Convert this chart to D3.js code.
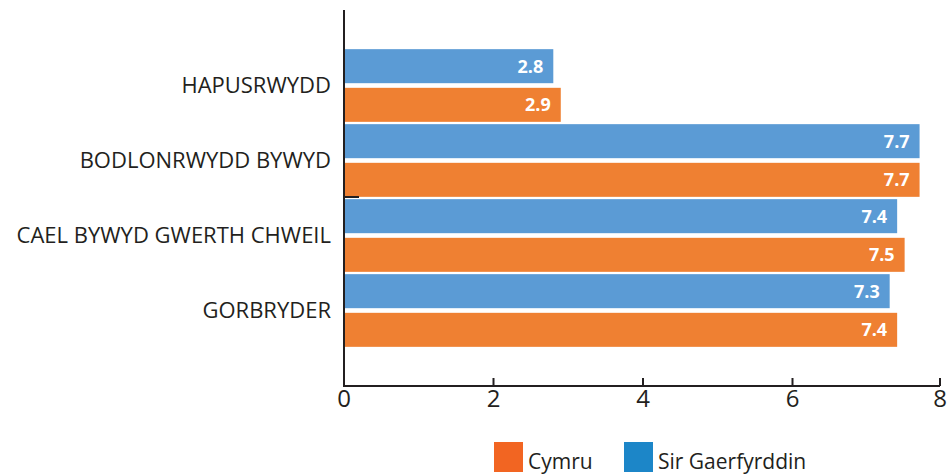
<!DOCTYPE html>
<html><head><meta charset="utf-8">
<script src="https://cdn.jsdelivr.net/npm/d3@7"></script>
<style>body{margin:0;background:#fff;} svg{display:block;font-family:"Open Sans","Noto Sans",sans-serif;}</style>
</head><body>
<svg id="c" width="949" height="474"></svg>
<script>
const categories = ["HAPUSRWYDD","BODLONRWYDD BYWYD","CAEL BYWYD GWERTH CHWEIL","GORBRYDER"];
const sirGaerfyrddin = [2.8, 7.7, 7.4, 7.3];
const cymru = [2.9, 7.7, 7.5, 7.4];
const seriesNames = ["Sir Gaerfyrddin","Cymru"];
const legendNames = ["Cymru","Sir Gaerfyrddin"];
const xTicks = [0,2,4,6,8];

const svg = d3.select("#c");
const x = d3.scaleLinear().domain([0,8]).range([344,942]);
const y = d3.scaleBand().domain(categories).range([48,348]).paddingInner(0.0).paddingOuter(0);
const sub = d3.scaleBand().domain(seriesNames).range([0,y.bandwidth()]).paddingInner(0.12).paddingOuter(0.03);
const barCol = {"Sir Gaerfyrddin":"#5b9bd5","Cymru":"#ef8032"};
const legCol = {"Cymru":"#f26522","Sir Gaerfyrddin":"#1c86c8"};

const data = [];
categories.forEach((c,i)=>{
  data.push({cat:c, s:"Sir Gaerfyrddin", v:sirGaerfyrddin[i]});
  data.push({cat:c, s:"Cymru", v:cymru[i]});
});

svg.selectAll("rect.bar").data(data).enter().append("rect")
  .attr("x", x(0)).attr("y", d=>y(d.cat)+sub(d.s))
  .attr("width", d=>x(d.v)-x(0)).attr("height", sub.bandwidth())
  .attr("fill", d=>barCol[d.s]);

svg.selectAll("text.val").data(data).enter().append("text")
  .attr("x", d=>x(d.v)-10).attr("y", d=>y(d.cat)+sub(d.s)+sub.bandwidth()/2)
  .attr("dy","0.36em").attr("text-anchor","end")
  .attr("fill","#fff").attr("font-weight","bold").attr("font-size","18px")
  .text(d=>d.v.toFixed(1));

// category labels
svg.selectAll("text.cat").data(categories).enter().append("text")
  .attr("x", 331).attr("y", d=>y(d)+y.bandwidth()/2)
  .attr("dy","0.36em").attr("text-anchor","end")
  .attr("fill","#231f20").attr("font-size","22px")
  .text(d=>d);

// y axis line
svg.append("line").attr("x1",344).attr("x2",344).attr("y1",10).attr("y2",387)
  .attr("stroke","#231f20").attr("stroke-width",2);
// stray tick
svg.append("line").attr("x1",344).attr("x2",359).attr("y1",y(categories[2])-1).attr("y2",y(categories[2])-1)
  .attr("stroke","#231f20").attr("stroke-width",2);

// x axis
const xa = svg.append("g").attr("transform","translate(0,386)")
  .call(d3.axisBottom(x).tickValues(xTicks).tickSize(-8).tickPadding(14).tickFormat(d3.format("d")));
xa.select(".domain").attr("stroke","#231f20").attr("stroke-width",2).attr("d","M344,0H940");
xa.selectAll(".tick").attr("transform", d=>`translate(${Math.min(x(d),940)},0)`);
xa.selectAll(".tick line").attr("stroke","#231f20").attr("stroke-width",2);
xa.selectAll(".tick text").attr("fill","#231f20").attr("font-size","24px").attr("font-family","'Open Sans',sans-serif").attr("dy","0.71em").attr("y",4);

// legend
const lx = [494, 624];
legendNames.forEach((n,i)=>{
  svg.append("rect").attr("x",lx[i]).attr("y",442).attr("width",29).attr("height",30).attr("fill",legCol[n]);
  svg.append("text").attr("x",lx[i]+34).attr("y",469).attr("font-size","21px").attr("fill","#231f20").text(n);
});
</script>
</body></html>
